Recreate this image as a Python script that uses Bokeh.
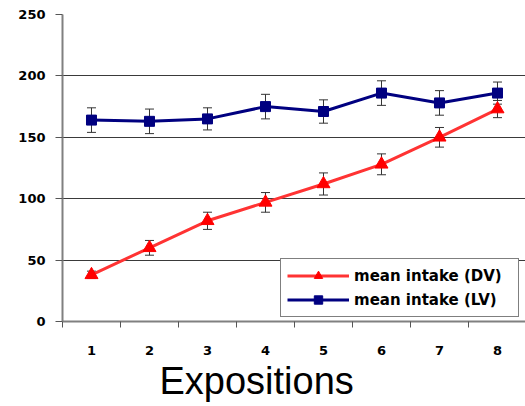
from bokeh.plotting import figure
from bokeh.models import (FixedTicker, Whisker, ColumnDataSource, Legend, LegendItem,
                          Title, TeeHead)
from bokeh.embed import file_html
from bokeh.resources import INLINE

expositions = [1, 2, 3, 4, 5, 6, 7, 8]
dv_mean = [38, 60, 82, 97, 112, 128, 150, 173]
dv_err = [3, 6, 7, 8, 9, 8.5, 8, 7]
lv_mean = [164, 163, 165, 175, 171, 186, 178, 186]
lv_err = [10, 10, 9, 10, 9.5, 10, 10, 9]
y_ticks = [0, 50, 100, 150, 200, 250]
x_label = "Expositions"
dv_label = "mean intake (DV)"
lv_label = "mean intake (LV)"

W, H = 525, 406
p = figure(width=W, height=H, output_backend="svg", toolbar_location=None,
           x_range=(0.5, 8.483), y_range=(0, 250),
           min_border_left=62, min_border_right=0, min_border_top=14, min_border_bottom=85)
p.outline_line_color = None
p.background_fill_color = "white"
p.border_fill_color = "white"

# grids
p.xgrid.grid_line_color = None
p.ygrid.grid_line_color = "#3a3a3a"
p.ygrid.grid_line_width = 1
p.ygrid.ticker = FixedTicker(ticks=y_ticks)

# y axis
p.yaxis.ticker = FixedTicker(ticks=y_ticks)
p.yaxis.axis_line_color = "#808080"
p.yaxis.axis_line_width = 2
p.yaxis.major_tick_line_color = "#555555"
p.yaxis.major_tick_out = 7
p.yaxis.major_tick_in = 0
p.yaxis.minor_tick_line_color = None
p.yaxis.major_label_standoff = 10
p.yaxis.major_label_text_font = "DejaVu Sans"
p.yaxis.major_label_text_font_style = "bold"
p.yaxis.major_label_text_font_size = "13px"
p.yaxis.major_label_text_color = "black"

# x axis
p.xaxis.ticker = FixedTicker(ticks=expositions,
                             minor_ticks=[e - 0.5 for e in expositions] + [expositions[-1] + 0.5])
p.xaxis.axis_line_color = "#808080"
p.xaxis.axis_line_width = 2
p.xaxis.major_tick_line_color = None
p.xaxis.major_tick_out = 0
p.xaxis.major_tick_in = 0
p.xaxis.minor_tick_line_color = "#555555"
p.xaxis.minor_tick_out = 6
p.xaxis.minor_tick_in = 0
p.xaxis.major_label_standoff = 18
p.xaxis.major_label_text_font = "DejaVu Sans"
p.xaxis.major_label_text_font_style = "bold"
p.xaxis.major_label_text_font_size = "13px"
p.xaxis.major_label_text_color = "black"

src_dv = ColumnDataSource(dict(x=expositions, y=dv_mean,
                               lo=[m - e for m, e in zip(dv_mean, dv_err)],
                               hi=[m + e for m, e in zip(dv_mean, dv_err)]))
src_lv = ColumnDataSource(dict(x=expositions, y=lv_mean,
                               lo=[m - e for m, e in zip(lv_mean, lv_err)],
                               hi=[m + e for m, e in zip(lv_mean, lv_err)]))

for src in (src_lv, src_dv):
    w = Whisker(source=src, base="x", lower="lo", upper="hi",
                line_color="#333333", line_width=1,
                upper_head=TeeHead(size=9, line_color="#333333", line_width=1),
                lower_head=TeeHead(size=9, line_color="#333333", line_width=1))
    p.add_layout(w)

dv_line = p.line("x", "y", source=src_dv, line_color="#ff3333", line_width=3)
dv_pts = p.scatter("x", "y", source=src_dv, marker="triangle", size=13,
                   fill_color="#ff0000", line_color="#ff0000")
lv_line = p.line("x", "y", source=src_lv, line_color="#000080", line_width=3)
lv_pts = p.scatter("x", "y", source=src_lv, marker="square", size=10,
                   fill_color="#000080", line_color="#000080")

legend = Legend(items=[LegendItem(label=dv_label, renderers=[dv_line, dv_pts]),
                       LegendItem(label=lv_label, renderers=[lv_line, lv_pts])],
                location=(218, 4),
                border_line_color="black", border_line_width=1,
                background_fill_color="white", background_fill_alpha=1,
                label_text_font="DejaVu Sans", label_text_font_style="bold",
                label_text_font_size="15px", label_text_color="black",
                glyph_width=62, glyph_height=21, label_height=21, label_width=158,
                label_standoff=5, spacing=3, padding=6, margin=0)
p.add_layout(legend)

p.add_layout(Title(text=x_label, align="left", offset=97, standoff=0,
                   text_font="Liberation Sans", text_font_style="normal",
                   text_font_size="38px", text_color="black"), "below")

open("out.html", "w").write(file_html(p, INLINE))
